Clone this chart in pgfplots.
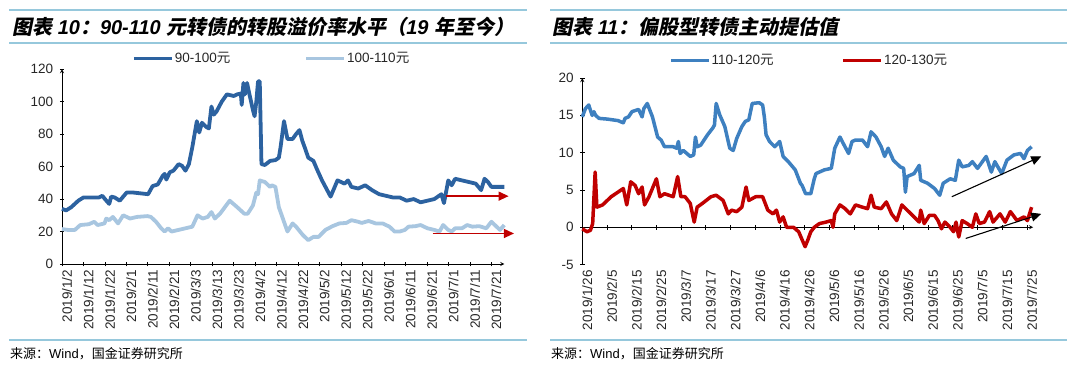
\documentclass[border=0pt]{standalone}
\usepackage{fontspec}
\setmainfont{Liberation Sans}
\newfontfamily\cjk{Noto Sans CJK SC}
\newfontfamily\cjksl{Noto Sans CJK SC}[FakeSlant=0.2]
\usepackage{pgfplots}
\pgfplotsset{compat=1.18}
\usetikzlibrary{arrows.meta}
\definecolor{dblue}{RGB}{44,98,160}
\definecolor{lblue}{RGB}{168,198,224}
\definecolor{mblue}{RGB}{62,128,192}
\definecolor{dred}{RGB}{192,0,0}
\definecolor{rulec}{RGB}{150,200,220}
\pgfplotsset{
  mystyle/.style={
    scale only axis, clip=false,
    axis line style={-, black, line width=0.8pt},
    tick style={black, line width=0.8pt},
    major tick length=4.5pt, tick align=outside,
    tick label style={font=\fontsize{13.5}{14}\selectfont, text=black!85},
    x tick label style={rotate=90, anchor=east, yshift=-5pt},
    y tick label style={xshift=-3pt},
    /pgf/number format/assume math mode=true,
    legend columns=2,
    legend style={draw=none, fill=none, inner sep=0pt, anchor=west,
      nodes={inner sep=1pt, font=\fontsize{13.5}{14}\selectfont, text=black!85}},
    legend image code/.code={\draw[##1] (0pt,0pt) -- (38pt,0pt);},
  },
}
\begin{document}
\begin{tikzpicture}[x=1pt,y=1pt]
\useasboundingbox (0,0) rectangle (1080,378);
% rules
\draw[rulec, line width=2pt] (9,367.7) -- (527,367.7);
\draw[rulec, line width=2pt] (9,335) -- (527,335);
\draw[rulec, line width=2pt] (9,38) -- (527,38);
\draw[rulec, line width=2pt] (550,367.7) -- (1067,367.7);
\draw[rulec, line width=2pt] (550,335) -- (1067,335);
\draw[rulec, line width=2pt] (550,38) -- (1067,38);
% titles
\node[anchor=west, inner sep=0pt] at (12,351) {\fontsize{20}{24}\selectfont\bfseries{\cjksl 图表} {\bfseries\itshape 10}{\cjksl ：}{\bfseries\itshape 90-110 }{\cjksl 元转债的转股溢价率水平（}{\bfseries\itshape 19 }{\cjksl 年至今）}};
\node[anchor=west, inner sep=0pt] at (552,351) {\fontsize{20}{24}\selectfont\bfseries{\cjksl 图表} {\bfseries\itshape 11}{\cjksl ：偏股型转债主动提估值}};
% sources
\node[anchor=west, inner sep=0pt] at (10,24) {\fontsize{13}{15}\selectfont{\cjk 来源：}Wind{\cjk ，国金证券研究所}};
\node[anchor=west, inner sep=0pt] at (551,24) {\fontsize{13}{15}\selectfont{\cjk 来源：}Wind{\cjk ，国金证券研究所}};

% ---------------- left chart
\begin{axis}[mystyle,
  at={(62pt,114pt)}, anchor=south west,
  width=442.3pt, height=194.8pt,
  xmin=0, xmax=206, ymin=0, ymax=120,
  axis x line=bottom, axis y line=left,
  ytick={0,20,...,120},
  xtick={0,10,...,200},
  xticklabels={2019/1/2,2019/1/12,2019/1/22,2019/2/1,2019/2/11,2019/2/21,2019/3/3,2019/3/13,2019/3/23,2019/4/2,2019/4/12,2019/4/22,2019/5/2,2019/5/12,2019/5/22,2019/6/1,2019/6/11,2019/6/21,2019/7/1,2019/7/11,2019/7/21},
  legend style={at={(0.158,1.055)}, /tikz/every even column/.append style={column sep=73pt}},
]
\addplot[dblue, line width=3.8pt, line join=round] table {
0 34
1.9 33
4.3 35
7.6 39
10 41
14 41
17.2 41
18.8 42
20 40
22 37
22.9 41.5
24.5 41
26.9 39
30.1 44
33.3 44
40.1 43
42.2 48
44.6 49
47 54.5
47.8 55.5
48.6 52
50.2 56.5
51.9 57.5
54.3 61.5
55.9 60.5
57.5 57.5
59.1 61.5
60.7 72
62.8 88
63.9 81
65.2 87
67.1 84.5
68.4 83.5
69.6 97
70.7 92
72 94
74.4 100
76.8 104.5
80 103.5
81.6 104.5
83.3 105
83.7 98
84.5 111.5
85.2 104.5
86.2 111.5
87.3 104.5
88.9 95
89.7 91
90.5 100
91.3 112.5
92.1 112.5
92.9 61.5
94.5 61
96.9 63.5
99.4 64
101 65.5
101.8 72
103.4 88
105 77
107.4 77
109 80
110.6 82.5
111.9 76
113 72
114.7 65.5
117.1 63.5
118.7 58.5
121.1 51.5
125.1 41.5
128.3 51.5
130 50.5
131.6 49.5
133.2 51.5
134.8 47.5
138 46.5
141.2 48.5
144.4 45.5
147.7 43
150.9 42
154.1 41
157.3 41
160.5 39
163.8 40
167 38
170.2 39
173.4 40
176.7 43
177.9 37.5
179.9 51.5
181.5 48.5
183.1 52.5
186.3 51.5
189.5 50.5
192.7 49.5
195.2 45.5
196.8 52.5
198.4 50.5
200 47.5
202.4 47.5
206 47.5
};
\addlegendentry{90-100{\cjk 元}}
\addplot[lblue, line width=3.8pt, line join=round] table {
0 21.5
2.7 21
6 21
8.5 24
12.5 24.5
15 26
16.6 24
19.8 25
20.6 28
22 27
23.7 29
26.1 25
28.5 30
31.7 28
34.9 29
39.8 29.5
41.4 29
43.8 26
46.2 22
47.8 20
49.4 22
51 20
54.3 21
57.5 22
60.7 23
63.1 30
65.5 28
67.9 29
69.6 32
71.2 28
73.6 31
78.1 39
81.6 35
84.9 31
86.5 31
88.9 36
90.5 44
91.3 43
92.1 51.5
94.5 50.5
96.9 47.5
97.7 48.5
99.4 47.5
101 35
102.6 29
105 20
107.4 25
109 23
112.2 17.8
114.7 14.7
117.1 16.7
119.5 16.7
122.7 21
126 23.3
129.2 25
132.4 25.3
134.8 27
138 26
139.6 25.3
142.8 26.5
146.1 25
149.3 25
152.5 23
154.9 20
157.3 20
159.7 21
161.4 23
164.6 23.3
167 24
170.2 22
173.4 21
175.8 20
177.5 24
179.9 21
181.5 20
183.1 22
186.3 22
188.7 24
191.1 23
194.4 23.3
197.6 22
200 26
202.4 23
204 21
206 24
};
\addlegendentry{100-110{\cjk 元}}
\draw[dred, line width=1.3pt, -{Triangle[length=10pt,width=9pt]}] (axis cs:179,41.8) -- (axis cs:208,41.8);
\draw[dred, line width=1.3pt, -{Triangle[length=10pt,width=9pt]}] (axis cs:172.6,18.8) -- (axis cs:210.5,18.8);
\end{axis}

% ---------------- right chart: zero line with ticks
\begin{axis}[mystyle,
  at={(582.3pt,113.4pt)}, anchor=south west,
  width=450.8pt, height=186.5pt,
  xmin=0, xmax=182.5, ymin=-5, ymax=20,
  axis x line=middle, axis y line=none,
  xtick={0,10,...,180}, xticklabels={}, ytick=\empty,
]
\end{axis}
% ---------------- right chart: main
\begin{axis}[mystyle,
  at={(582.3pt,113.4pt)}, anchor=south west,
  width=450.8pt, height=186.5pt,
  xmin=0, xmax=182.5, ymin=-5, ymax=20,
  axis x line=bottom, axis y line=left,
  x axis line style={draw=none},
  x tick style={draw=none},
  ytick={-5,0,...,20},
  xtick={0,10,...,180},
  xticklabels={2019/1/26,2019/2/5,2019/2/15,2019/2/25,2019/3/7,2019/3/17,2019/3/27,2019/4/6,2019/4/16,2019/4/26,2019/5/6,2019/5/16,2019/5/26,2019/6/5,2019/6/15,2019/6/25,2019/7/5,2019/7/15,2019/7/25},
  legend style={at={(0.192,1.095)}, /tikz/every even column/.append style={column sep=67pt}},
]
\addplot[mblue, line width=3.5pt, line join=round] table {
0 14.8
1.25 15.9
2.6 16.4
3.3 15.7
4.0 15
4.7 15.5
5.4 15
6.8 14.6
10.3 14.5
14.5 14.3
16.6 14
17.3 14.6
18.7 14.8
20.1 15.5
22.8 15.8
24.2 14.8
24.9 15.9
26.3 16.6
28.4 14.8
30.5 12.1
31.9 11.7
33.3 10.8
36.8 10.8
38.2 10.6
38.9 11.5
39.6 9.9
40.9 10.3
43.7 9.5
45.1 9.7
45.8 12.1
46.5 10.8
47.9 11
50.7 12.4
52.8 13.3
53.5 13.7
54.2 16.6
55.6 15.1
57.7 13.5
59.7 10.6
61.1 10.3
62.5 11.9
64.6 13.5
66 14.2
67.4 14.4
68.8 16.6
71.6 16.7
73 16.4
73.7 14.8
74.4 12.4
75.8 11.5
77.9 10.8
79.9 11.5
81.3 9.5
83.4 8.8
86.2 7.7
88.3 5.9
89 5.6
90.4 4.5
92.5 4.5
93.9 6.5
94.6 7.2
98 7.7
100.8 7.9
102.2 10.6
104.3 12.1
105.7 11.2
107.8 9.9
109.2 11.5
110.6 11.7
113.4 11.7
115.5 10.8
116.9 12.8
118.9 12.1
121 10.8
122.4 9.5
123.8 10.6
125.9 9
128.7 8.1
130.1 7.9
130.8 4.7
131.5 6.8
134.3 7.2
136.4 8.3
137 6.3
139.8 5.9
142.6 5.2
144.7 4.3
146.1 5.9
148.9 6.5
151 6.3
152.4 9
153.8 8.1
156.5 8.3
157.9 8.8
160 7.9
163.5 9.5
165.6 7.4
167 8.8
169.8 7.2
171.9 9
174.7 9.7
177.4 9.9
178.8 9.2
180.2 10.3
181.9 10.8
};
\addlegendentry{110-120{\cjk 元}}
\addplot[dred, line width=3.5pt, line join=round] table {
0 -0.2
1.9 -0.6
3.3 -0.4
4.2 0.5
5.2 7.4
5.9 2.7
8.2 3
11.7 4.1
16.6 5.2
18 3.0
19.6 6.1
21.4 5.6
22.8 4.5
24.2 5.4
25.2 3.0
27 4.1
30 6.5
31.4 4.1
33.3 4.5
36.8 4.1
38.6 6.8
39.9 4.1
41.6 4.1
43.7 3.2
45.3 0.7
46.5 2.7
48.6 3.2
52.1 4.1
54.2 4.3
57 3.6
59.1 1.8
60.4 2.3
62.5 2.1
64.6 2.7
66.3 5.4
67.4 3.6
70.2 4.1
73 4.1
75.1 2.3
77.2 1.8
78.6 2.3
79.9 0.7
81.3 1.4
82.7 0
85.5 0
87.6 -0.6
90.2 -2.6
91.3 -1.7
92.5 -0.6
93.9 0
96 0.5
98.7 0.7
100.8 0.9
101.5 0
102.2 1.8
104.3 3
106.4 2.5
108.5 1.8
110.6 3
113.4 2.7
115.5 2.5
116.9 4.3
118.2 2.7
121 2.5
123.1 3.4
125.2 1.8
127.3 0.9
129.4 3
131.5 2.3
134.3 1.4
136.4 0.7
137 2.3
138.4 0.5
140.5 1.6
142.6 1.6
144 0.9
145.4 -0.2
146.8 0.7
148.9 0
150.3 -0.6
151.3 0.7
152.4 -1.3
153.8 0.9
155.8 0.5
157.9 0
159.3 1.8
160.7 0.5
162.8 0.7
164.9 2.1
166.3 0.7
169.1 1.8
171.2 0.7
173.3 2.1
176 0.9
178.8 1.4
180.2 0.9
181.9 2.7
};
\addlegendentry{120-130{\cjk 元}}
\draw[black, line width=1.1pt, -{Triangle[length=10pt,width=9pt]}] (axis cs:149.6,4.1) -- (axis cs:185.8,9.5);
\draw[black, line width=1.1pt, -{Triangle[length=10pt,width=9pt]}] (axis cs:155.2,-1.5) -- (axis cs:185.8,1.8);
\end{axis}
\end{tikzpicture}
\end{document}
